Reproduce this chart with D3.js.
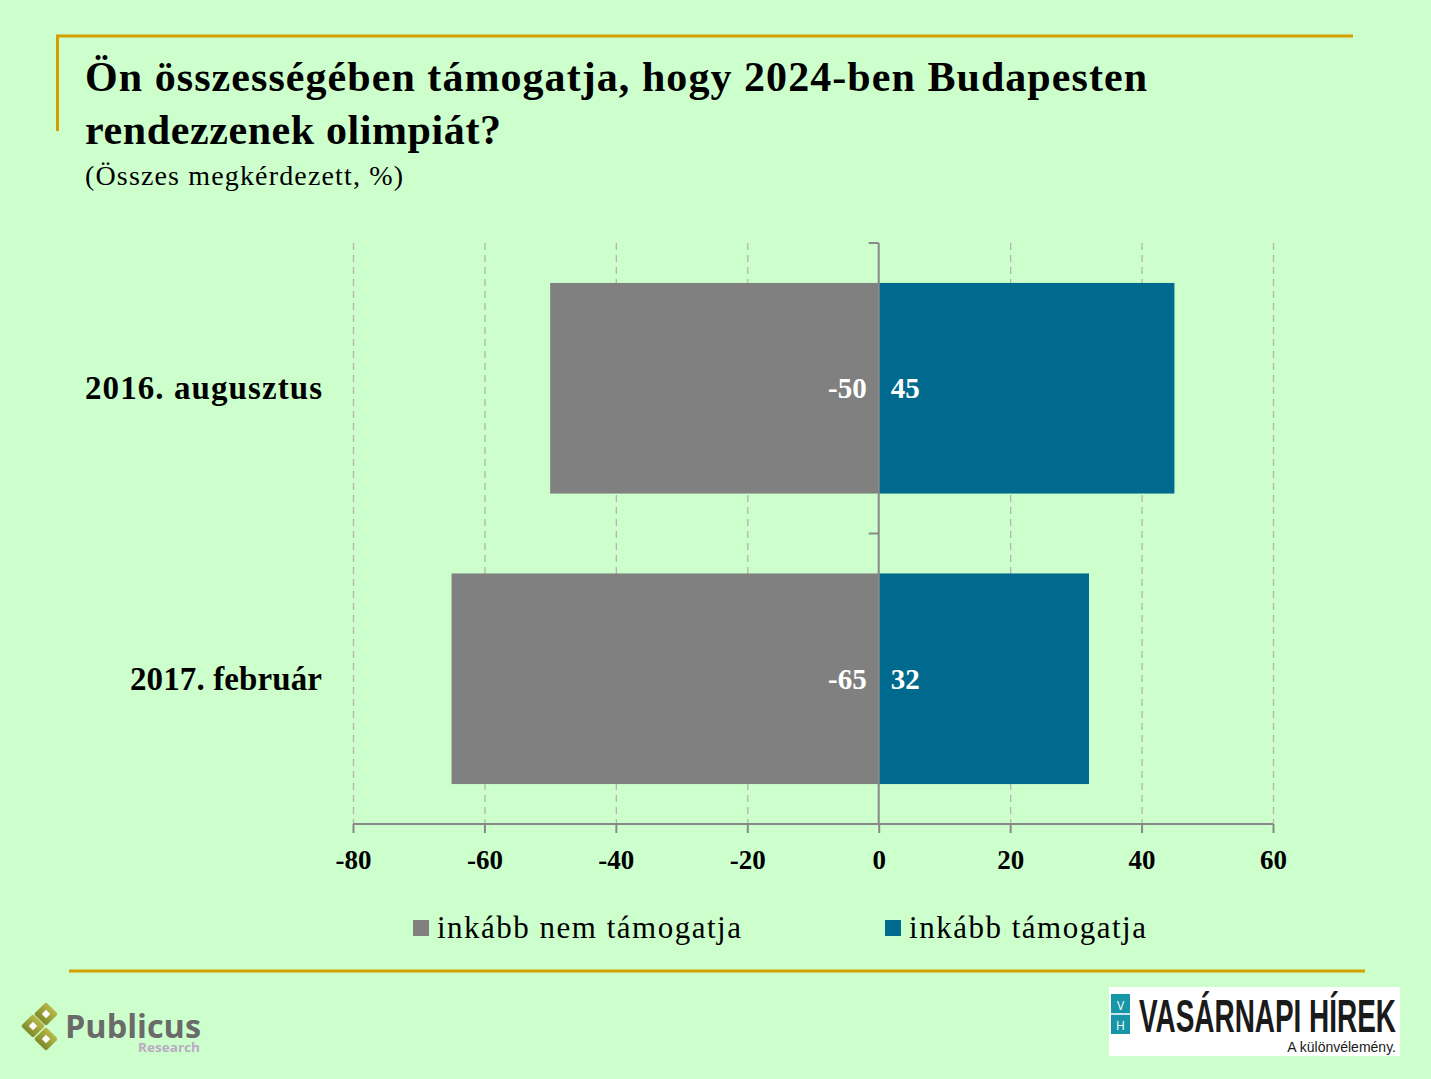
<!DOCTYPE html>
<html><head><meta charset="utf-8">
<script src="https://cdn.jsdelivr.net/npm/d3@7"></script>
<style>
html,body{margin:0;padding:0;background:#ccffcc;}
svg{display:block;}
</style></head>
<body>
<script>
const categories = ["2016. augusztus", "2017. február"];
const seriesNames = ["inkább nem támogatja", "inkább támogatja"];
const against = [-50, -65];
const support = [45, 32];
const xTicks = [-80, -60, -40, -20, 0, 20, 40, 60];
const colors = ["#808080", "#006a8e"];

const W = 1431, H = 1079;
const svg = d3.select("body").append("svg").attr("width", W).attr("height", H);
svg.append("rect").attr("width", W).attr("height", H).attr("fill", "#ccffcc");
const serif = '"Liberation Serif","Times New Roman",serif';
const sans = '"Open Sans","DejaVu Sans",sans-serif';
const narrow = '"Liberation Sans Narrow","Liberation Sans",sans-serif';

// decorative gold lines
const gold = "#d4a000";
svg.append("line").attr("x1",56).attr("x2",1353).attr("y1",36).attr("y2",36).attr("stroke",gold).attr("stroke-width",3);
svg.append("line").attr("x1",57.5).attr("x2",57.5).attr("y1",35).attr("y2",131).attr("stroke",gold).attr("stroke-width",3);
svg.append("line").attr("x1",69).attr("x2",1365).attr("y1",971).attr("y2",971).attr("stroke",gold).attr("stroke-width",3);

// title
svg.append("text").style("font-family", serif).attr("x",85).attr("y",91).attr("font-size",42).attr("font-weight","bold")
  .attr("textLength", 1062).attr("lengthAdjust", "spacing")
  .text("Ön összességében támogatja, hogy 2024-ben Budapesten");
svg.append("text").style("font-family", serif).attr("x",85).attr("y",144).attr("font-size",42).attr("font-weight","bold")
  .attr("textLength", 416).attr("lengthAdjust", "spacing")
  .text("rendezzenek olimpiát?");
svg.append("text").style("font-family", serif).attr("x",85).attr("y",185).attr("font-size",28)
  .attr("textLength", 318).attr("lengthAdjust", "spacing")
  .text("(Összes megkérdezett, %)");

// scales
const x = d3.scaleLinear().domain([-80, 60]).range([353, 1273]);
const y = d3.scaleBand().domain(categories).range([243, 824]).paddingInner(0.275).paddingOuter(0.1375);
const yb = d3.scaleBand().domain(categories).range([243, 824]);

// gridlines
svg.append("g").selectAll("line").data(xTicks.filter(d => d !== 0)).join("line")
  .attr("x1", d => x(d)+0.5).attr("x2", d => x(d)+0.5).attr("y1", 243).attr("y2", 824)
  .attr("stroke", "#b4b4b4").attr("stroke-width", 1.3).attr("stroke-dasharray", "7,5");

// bars
const rows = categories.map((c, i) => ({c, a: against[i], s: support[i]}));
svg.append("g").selectAll("rect").data(rows).join("rect")
  .attr("x", d => x(d.a)).attr("width", d => x(0) - x(d.a))
  .attr("y", d => y(d.c)).attr("height", y.bandwidth()).attr("fill", colors[0]);
svg.append("g").selectAll("rect").data(rows).join("rect")
  .attr("x", x(0)).attr("width", d => x(d.s) - x(0))
  .attr("y", d => y(d.c)).attr("height", y.bandwidth()).attr("fill", colors[1]);

// value labels
svg.append("g").selectAll("text").data(rows).join("text").style("font-family", serif)
  .attr("x", x(0) - 12).attr("y", d => y(d.c) + y.bandwidth()/2 + 10)
  .attr("text-anchor", "end").attr("fill", "#fff").attr("font-weight", "bold").attr("font-size", 29)
  .text(d => String(d.a));
svg.append("g").selectAll("text").data(rows).join("text").style("font-family", serif)
  .attr("x", x(0) + 12).attr("y", d => y(d.c) + y.bandwidth()/2 + 10)
  .attr("text-anchor", "start").attr("fill", "#fff").attr("font-weight", "bold").attr("font-size", 29)
  .text(d => String(d.s));

// x axis
const xAxis = d3.axisBottom(x).tickValues(xTicks).tickSize(9).tickPadding(17).tickFormat(d => String(d));
const gx = svg.append("g").attr("transform", "translate(0,824)").call(xAxis);
gx.select(".domain").attr("stroke", "#888").attr("stroke-width", 2).attr("d", `M${x(-80)},0H${x(60)}`);
gx.selectAll(".tick line").attr("stroke", "#888").attr("stroke-width", 2).attr("y1", 0);
gx.selectAll(".tick text").attr("fill", "#000").attr("font-size", 27).attr("font-weight", "bold")
  .style("font-family", serif);

// y axis at zero
const gy = svg.append("g").attr("transform", `translate(${x(0)},0)`);
gy.append("line").attr("x1",0).attr("x2",0).attr("y1",243).attr("y2",824).attr("stroke","#888").attr("stroke-width",2);
gy.selectAll("line.t").data([...yb.domain().map(d => yb(d)), 824]).join("line").attr("class","t")
  .attr("x1", -10).attr("x2", 0).attr("y1", d => d).attr("y2", d => d)
  .attr("stroke", "#888").attr("stroke-width", 2);

// category labels
const catWidths = [237, 192];
svg.append("g").selectAll("text").data(categories).join("text").style("font-family", serif)
  .attr("x", 322).attr("y", d => yb(d) + yb.bandwidth()/2 + 11)
  .attr("text-anchor", "end").attr("font-size", 33).attr("font-weight", "bold")
  .attr("textLength", (d, i) => catWidths[i]).attr("lengthAdjust", "spacing").text(d => d);

// legend
const leg = [{n: seriesNames[0], c: colors[0], x: 413, w: 304}, {n: seriesNames[1], c: colors[1], x: 885, w: 237}];
const lg = svg.append("g").selectAll("g").data(leg).join("g");
lg.append("rect").attr("x", d => d.x).attr("y", 920).attr("width", 16).attr("height", 16).attr("fill", d => d.c);
lg.append("text").style("font-family", serif).attr("x", d => d.x + 24).attr("y", 938).attr("font-size", 31)
  .attr("textLength", d => d.w).attr("lengthAdjust", "spacing").text(d => d.n);

// Publicus logo
const pub = svg.append("g");
const dg = svg.append("defs").append("linearGradient").attr("id","olive").attr("x1","0").attr("y1","0").attr("x2","0").attr("y2","1");
dg.append("stop").attr("offset","0").attr("stop-color","#b8b848");
dg.append("stop").attr("offset","1").attr("stop-color","#7f8a2a");
[[46,1014],[33,1026],[46,1039]].forEach(([cx, cy]) => {
  pub.append("rect").attr("x", cx-8.5).attr("y", cy-8.5).attr("width", 17).attr("height", 17).attr("rx", 2)
    .attr("fill", "url(#olive)").attr("transform", `rotate(45,${cx},${cy})`);
  pub.append("rect").attr("x", cx-3).attr("y", cy-3).attr("width", 6).attr("height", 6)
    .attr("fill", "#fff").attr("transform", `rotate(45,${cx},${cy})`);
});
pub.append("text").style("font-family", sans).attr("x", 65).attr("y", 1038)
  .attr("font-weight", "bold").attr("font-size", 32).attr("fill", "#6a6a6a")
  .attr("textLength", 136).attr("lengthAdjust", "spacingAndGlyphs").text("Publicus");
pub.append("text").style("font-family", sans).attr("x", 138).attr("y", 1052)
  .attr("font-weight", "bold").attr("font-size", 13).attr("fill", "#bbaac4")
  .attr("textLength", 62).attr("lengthAdjust", "spacingAndGlyphs").text("Research");

// Vasárnapi Hírek logo
const vh = svg.append("g");
vh.append("rect").attr("x", 1109).attr("y", 987).attr("width", 291).attr("height", 69).attr("fill", "#fff");
vh.append("rect").attr("x", 1111).attr("y", 994).attr("width", 19).attr("height", 40).attr("fill", "#1796a8");
vh.append("line").attr("x1", 1111).attr("x2", 1130).attr("y1", 1014).attr("y2", 1014).attr("stroke", "#fff").attr("stroke-width", 1.5);
vh.append("text").style("font-family", sans).attr("x", 1120.5).attr("y", 1010).attr("text-anchor", "middle")
  .attr("font-size", 12).attr("fill", "#fff").text("V");
vh.append("text").style("font-family", sans).attr("x", 1120.5).attr("y", 1030).attr("text-anchor", "middle")
  .attr("font-size", 12).attr("fill", "#fff").text("H");
vh.append("text").style("font-family", narrow).attr("x", 1139).attr("y", 1032)
  .attr("font-weight", "bold").attr("font-size", 46).attr("fill", "#1a1a1a")
  .attr("textLength", 257).attr("lengthAdjust", "spacingAndGlyphs").text("VASÁRNAPI HÍREK");
vh.append("text").style("font-family", narrow).attr("x", 1396).attr("y", 1052).attr("text-anchor", "end")
  .attr("font-size", 14).attr("fill", "#1a1a1a").text("A különvélemény.");
</script>
</body></html>
